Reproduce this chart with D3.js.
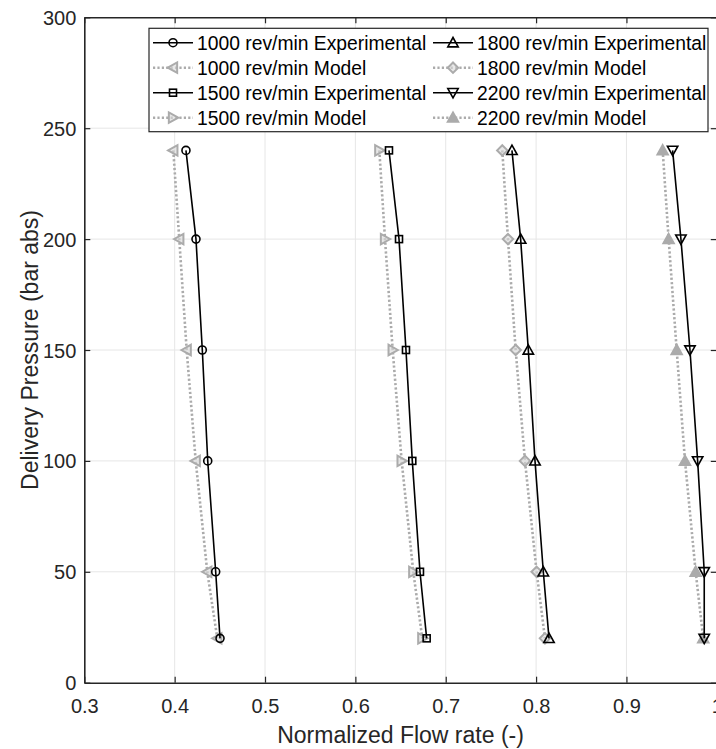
<!DOCTYPE html>
<html><head><meta charset="utf-8">
<script src="https://cdn.jsdelivr.net/npm/d3@7"></script>
<style>body{margin:0;background:#fff}svg{display:block;font-family:"Liberation Sans",Arial,sans-serif}</style>
</head><body>
<svg id="chart" width="716" height="749"></svg>
<script>
const pressure = [240, 200, 150, 100, 50, 20];
const exp1000 = [0.4125, 0.4236, 0.4306, 0.4366, 0.4454, 0.4502];
const mod1000 = [0.3985, 0.4051, 0.4133, 0.4233, 0.4361, 0.4472];
const exp1500 = [0.6372, 0.6483, 0.6560, 0.6630, 0.6715, 0.6789];
const mod1500 = [0.6265, 0.6328, 0.6413, 0.6512, 0.6641, 0.6741];
const exp1800 = [0.7733, 0.7829, 0.7914, 0.7988, 0.8080, 0.8143];
const mod1800 = [0.7626, 0.7689, 0.7774, 0.7877, 0.8006, 0.8098];
const exp2200 = [0.9511, 0.9603, 0.9703, 0.9788, 0.9861, 0.9861];
const mod2200 = [0.9401, 0.9467, 0.9556, 0.9648, 0.9766, 0.9850];
const xTicks = [0.3, 0.4, 0.5, 0.6, 0.7, 0.8, 0.9, 1.0];
const xTickLabels = ["0.3", "0.4", "0.5", "0.6", "0.7", "0.8", "0.9", "1"];
const yTicks = [0, 50, 100, 150, 200, 250, 300];
const seriesNames = ["1000 rev/min Experimental", "1000 rev/min Model", "1500 rev/min Experimental", "1500 rev/min Model",
  "1800 rev/min Experimental", "1800 rev/min Model", "2200 rev/min Experimental", "2200 rev/min Model"];

const series = [
  {name: seriesNames[0], xs: exp1000, kind: "exp", marker: "circle"},
  {name: seriesNames[1], xs: mod1000, kind: "mod", marker: "triLeft"},
  {name: seriesNames[2], xs: exp1500, kind: "exp", marker: "square"},
  {name: seriesNames[3], xs: mod1500, kind: "mod", marker: "triRight"},
  {name: seriesNames[4], xs: exp1800, kind: "exp", marker: "triUp"},
  {name: seriesNames[5], xs: mod1800, kind: "mod", marker: "diamond"},
  {name: seriesNames[6], xs: exp2200, kind: "exp", marker: "triDown"},
  {name: seriesNames[7], xs: mod2200, kind: "mod", marker: "triUpFill"}
];

const svg = d3.select("#chart");
const L = 84.3, T = 17.3, R = 716.8, B = 682.7;
const x = d3.scaleLinear().domain([0.3, 1.0]).range([L, R]);
const y = d3.scaleLinear().domain([0, 300]).range([B, T]);
const axisCol = "#262626";
const gray = "#ababab";

// grid
svg.append("g").selectAll("line").data(xTicks.slice(1, -1)).join("line")
  .attr("x1", d => x(d)).attr("x2", d => x(d)).attr("y1", T).attr("y2", B)
  .attr("stroke", "#e6e6e6").attr("stroke-width", 1);
svg.append("g").selectAll("line").data(yTicks.slice(1, -1)).join("line")
  .attr("y1", d => y(d)).attr("y2", d => y(d)).attr("x1", L).attr("x2", R)
  .attr("stroke", "#e6e6e6").attr("stroke-width", 1);

// axes
const fmtX = d => xTickLabels[xTicks.indexOf(d)];
const gx = svg.append("g").attr("transform", `translate(0,${B})`)
  .call(d3.axisBottom(x).tickValues(xTicks).tickFormat(fmtX).tickSizeInner(-6).tickSizeOuter(0).tickPadding(16));
const gxTop = svg.append("g").attr("transform", `translate(0,${T})`)
  .call(d3.axisTop(x).tickValues(xTicks).tickFormat("").tickSizeInner(-6).tickSizeOuter(0));
const gy = svg.append("g").attr("transform", `translate(${L},0)`)
  .call(d3.axisLeft(y).tickValues(yTicks).tickSizeInner(-6).tickSizeOuter(0).tickPadding(8));
const gyR = svg.append("g").attr("transform", `translate(${R},0)`)
  .call(d3.axisRight(y).tickValues(yTicks).tickFormat("").tickSizeInner(-6).tickSizeOuter(0));
[gx, gxTop, gy, gyR].forEach(g => {
  g.select(".domain").attr("stroke", axisCol).attr("stroke-width", 1.6);
  g.selectAll(".tick line").attr("stroke", axisCol).attr("stroke-width", 1.2);
  g.selectAll(".tick text").attr("fill", axisCol).attr("font-size", 20).attr("font-family", "Liberation Sans, Arial, sans-serif");
});
gx.selectAll(".tick text").attr("dy", "0.71em");
gy.selectAll(".tick text").attr("dy", "0.35em");

// labels
svg.append("text").attr("x", (L + R) / 2).attr("y", 743).attr("text-anchor", "middle")
  .attr("font-size", 23).attr("fill", axisCol).text("Normalized Flow rate (-)");
svg.append("text").attr("transform", `translate(38,${(T + B) / 2}) rotate(-90)`).attr("text-anchor", "middle")
  .attr("font-size", 23).attr("fill", axisCol).text("Delivery Pressure (bar abs)");

// marker drawing
function drawMarker(g, type, cx, cy, kind) {
  const col = kind === "exp" ? "#000" : gray;
  const sw = kind === "exp" ? 1.6 : 2;
  const s = 5.2;
  let el;
  if (type === "circle") {
    el = g.append("circle").attr("cx", cx).attr("cy", cy).attr("r", 4);
  } else if (type === "square") {
    el = g.append("rect").attr("x", cx - 3.5).attr("y", cy - 3.5).attr("width", 7).attr("height", 7);
  } else {
    let pts;
    if (type === "triUp" || type === "triUpFill") pts = [[0, -s], [s, s * 0.8], [-s, s * 0.8]];
    else if (type === "triDown") pts = [[0, s], [s, -s * 0.8], [-s, -s * 0.8]];
    else if (type === "triLeft") pts = [[-s, 0], [s * 0.8, -s], [s * 0.8, s]];
    else if (type === "triRight") pts = [[s, 0], [-s * 0.8, -s], [-s * 0.8, s]];
    else if (type === "diamond") pts = [[0, -s], [s, 0], [0, s], [-s, 0]];
    el = g.append("polygon").attr("points", pts.map(p => [cx + p[0], cy + p[1]].join(",")).join(" "));
  }
  el.attr("stroke", col).attr("stroke-width", sw)
    .attr("fill", type === "triUpFill" ? gray : (kind === "mod" ? "#d9d9d9" : "none"))
    .attr("fill-opacity", kind === "mod" && type !== "triUpFill" ? 0.6 : 1);
}

const line = d3.line().x(d => x(d[0])).y(d => y(d[1]));
const plot = svg.append("g");
// draw models first, then experimental
const order = [1, 3, 5, 7, 0, 2, 4, 6];
order.forEach(i => {
  const s = series[i];
  const pts = s.xs.map((v, j) => [v, pressure[j]]);
  plot.append("path").attr("d", line(pts)).attr("fill", "none")
    .attr("stroke", s.kind === "exp" ? "#000" : gray)
    .attr("stroke-width", s.kind === "exp" ? 1.6 : 2.6)
    .attr("stroke-dasharray", s.kind === "exp" ? null : "2.2,2.2");
  pts.forEach(p => drawMarker(plot, s.marker, x(p[0]), y(p[1]), s.kind));
});

// legend
const lg = svg.append("g");
lg.append("rect").attr("x", 149).attr("y", 28.3).attr("width", 559).attr("height", 103.4)
  .attr("fill", "#fff").attr("stroke", axisCol).attr("stroke-width", 1.2);
const colX = [153, 433];
series.forEach((s, i) => {
  const col = Math.floor(i / 4), row = i % 4;
  const lx = colX[col], ly = 42.7 + row * 25;
  lg.append("line").attr("x1", lx).attr("x2", lx + 40).attr("y1", ly).attr("y2", ly)
    .attr("stroke", s.kind === "exp" ? "#000" : gray)
    .attr("stroke-width", s.kind === "exp" ? 1.6 : 2.6)
    .attr("stroke-dasharray", s.kind === "exp" ? null : "2.2,2.2");
  drawMarker(lg, s.marker, lx + 20, ly, s.kind);
  lg.append("text").attr("x", lx + 44).attr("y", ly).attr("dy", "0.36em")
    .attr("font-size", 19.3).attr("fill", "#000").text(s.name);
});
</script>
</body></html>
